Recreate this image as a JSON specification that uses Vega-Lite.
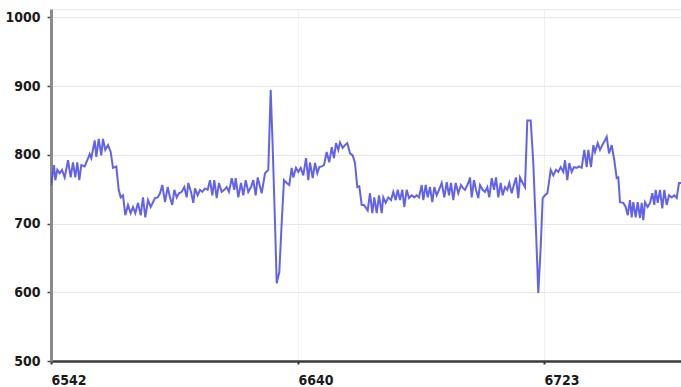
{
  "$schema": "https://vega.github.io/schema/vega-lite/v6.json",
  "width": 630,
  "height": 352,
  "autosize": {"type": "none"},
  "padding": {"left": 51, "top": 9, "right": 0, "bottom": 26},
  "background": "white",
  "config": {
    "view": {"stroke": "#e8e8e8", "strokeWidth": 1},
    "axis": {"labelFont": "DejaVu Sans Condensed, sans-serif", "labelFontSize": 14, "labelFontWeight": "bold", "labelColor": "#1a1a1a", "title": null}
  },
  "data": {
    "values": [
      {"t":0,"v":756},{"t":3,"v":785},{"t":4.3,"v":763},{"t":6.3,"v":778},{"t":8.7,"v":773},{"t":11,"v":778},{"t":13.7,"v":767},{"t":17,"v":792},{"t":19.7,"v":767},{"t":22,"v":789},{"t":24.3,"v":767},{"t":26.3,"v":789},{"t":28.3,"v":763},{"t":30.3,"v":785},{"t":33.7,"v":783},{"t":36.3,"v":792},{"t":38.7,"v":801},{"t":40.3,"v":795},{"t":43.7,"v":821},{"t":45.3,"v":797},{"t":47.7,"v":823},{"t":50.3,"v":799},{"t":52,"v":823},{"t":54.3,"v":807},{"t":57,"v":814},{"t":59.7,"v":804},{"t":62,"v":781},{"t":65.3,"v":783},{"t":67.7,"v":749},{"t":69.7,"v":738},{"t":72,"v":741},{"t":74.3,"v":712},{"t":77,"v":727},{"t":79.7,"v":715},{"t":82,"v":724},{"t":84.3,"v":715},{"t":87,"v":730},{"t":89.7,"v":712},{"t":92,"v":738},{"t":94.3,"v":709},{"t":97,"v":734},{"t":99.7,"v":724},
      {"t":104,"v":737},{"t":106.7,"v":738},{"t":109,"v":744},{"t":111.3,"v":756},{"t":114,"v":731},{"t":116.7,"v":753},{"t":119,"v":738},{"t":121.3,"v":727},{"t":123.3,"v":749},{"t":125.7,"v":738},{"t":128,"v":744},{"t":130.7,"v":746},{"t":133.3,"v":753},{"t":135.7,"v":738},{"t":137.3,"v":759},{"t":140,"v":746},{"t":142.3,"v":730},{"t":144,"v":751},{"t":146.7,"v":741},{"t":149,"v":749},{"t":151.3,"v":746},{"t":154,"v":751},{"t":156.7,"v":749},{"t":159,"v":763},{"t":161.3,"v":741},{"t":163.3,"v":763},{"t":165.7,"v":737},{"t":168,"v":759},{"t":170.7,"v":746},{"t":173.3,"v":749},{"t":175.7,"v":753},{"t":178,"v":746},{"t":180.7,"v":766},{"t":183.3,"v":749},{"t":184.7,"v":766},{"t":187.3,"v":738},{"t":190,"v":759},{"t":192.3,"v":741},{"t":194.7,"v":763},{"t":197.3,"v":746},{"t":200,"v":753},{"t":202.3,"v":763},{"t":204.7,"v":741},{"t":206.7,"v":767},{"t":210.7,"v":744},{"t":214,"v":773},{"t":217.3,"v":778},{"t":219.7,"v":894},
      {"t":221.7,"v":811},{"t":224,"v":701},{"t":225.7,"v":613},{"t":228.3,"v":629},{"t":230.7,"v":701},{"t":233,"v":763},{"t":235.7,"v":759},{"t":238.3,"v":756},{"t":240.7,"v":781},{"t":242.3,"v":767},{"t":245,"v":781},{"t":247.3,"v":775},{"t":249.7,"v":781},{"t":252.3,"v":770},{"t":255,"v":795},{"t":257.3,"v":763},{"t":259,"v":789},{"t":261.7,"v":766},{"t":264,"v":788},{"t":266.3,"v":773},{"t":268.3,"v":782},{"t":270.7,"v":783},{"t":273,"v":785},{"t":275.7,"v":804},{"t":278.3,"v":789},{"t":280.7,"v":811},{"t":283,"v":795},{"t":285,"v":817},{"t":287.3,"v":807},{"t":289,"v":818},{"t":291.7,"v":810},{"t":294,"v":814},{"t":296.3,"v":817},{"t":299,"v":802},{"t":301.7,"v":799},{"t":304,"v":788},{"t":306.3,"v":753},{"t":308.3,"v":754},{"t":310.7,"v":727},{"t":313,"v":727},
      {"t":316.7,"v":719},{"t":319,"v":744},{"t":321.3,"v":715},{"t":323.3,"v":738},{"t":325.7,"v":715},{"t":328,"v":741},{"t":330.7,"v":715},{"t":332.3,"v":738},{"t":334.7,"v":730},{"t":337.3,"v":738},{"t":340,"v":734},{"t":342.3,"v":746},{"t":344.7,"v":734},{"t":346.7,"v":749},{"t":349,"v":734},{"t":351.3,"v":749},{"t":353.3,"v":724},{"t":355.7,"v":749},{"t":358,"v":737},{"t":360.7,"v":741},{"t":363.3,"v":738},{"t":365.7,"v":741},{"t":368,"v":738},{"t":370.7,"v":756},{"t":372.3,"v":734},{"t":374.7,"v":756},{"t":376.7,"v":738},{"t":379,"v":753},{"t":381.3,"v":731},{"t":383.3,"v":753},{"t":385.7,"v":741},{"t":388,"v":749},{"t":390.7,"v":759},{"t":393.3,"v":738},{"t":395.7,"v":760},{"t":398,"v":741},{"t":400,"v":759},{"t":402.3,"v":734},{"t":404.7,"v":759},{"t":407.3,"v":744},{"t":410,"v":756},{"t":412.3,"v":751},{"t":414,"v":749},{"t":417.3,"v":759},
      {"t":419,"v":767},{"t":420.7,"v":738},{"t":423,"v":763},{"t":425,"v":749},{"t":427.3,"v":737},{"t":429,"v":756},{"t":431.7,"v":749},{"t":434,"v":746},{"t":436.3,"v":753},{"t":438.3,"v":738},{"t":440.7,"v":766},{"t":443,"v":749},{"t":445,"v":767},{"t":447.3,"v":738},{"t":449.7,"v":759},{"t":451.7,"v":741},{"t":454,"v":753},{"t":456.3,"v":749},{"t":458.3,"v":759},{"t":460.7,"v":744},{"t":462.3,"v":753},{"t":465,"v":767},{"t":467.3,"v":737},{"t":469,"v":767},{"t":471.7,"v":759},{"t":474,"v":753},{"t":476.3,"v":850},{"t":479.7,"v":850},{"t":482.3,"v":788},{"t":485,"v":690},{"t":487.3,"v":599},{"t":489.7,"v":666},{"t":491.7,"v":737},{"t":494,"v":741},{"t":496.3,"v":744},{"t":498.3,"v":763},{"t":499.7,"v":778},{"t":502.3,"v":770},{"t":505,"v":778},{"t":507.3,"v":775},{"t":509.7,"v":782},{"t":512.3,"v":775},{"t":514,"v":792},{"t":516.3,"v":763},{"t":518.3,"v":788},{"t":520.7,"v":775},{"t":523,"v":782},
      {"t":525.7,"v":781},{"t":528,"v":783},{"t":530.7,"v":781},{"t":533.3,"v":807},{"t":535.7,"v":782},{"t":537.3,"v":807},{"t":540,"v":782},{"t":542.3,"v":814},{"t":544,"v":804},{"t":546.7,"v":817},{"t":549,"v":807},{"t":551.3,"v":814},{"t":554,"v":821},{"t":555.7,"v":826},{"t":558,"v":802},{"t":560.7,"v":814},{"t":563.3,"v":792},{"t":565.7,"v":766},{"t":567.3,"v":767},{"t":569,"v":731},{"t":572.3,"v":730},{"t":574.7,"v":724},{"t":576.7,"v":712},{"t":579,"v":734},{"t":580.7,"v":709},{"t":582.3,"v":731},{"t":584.7,"v":709},{"t":586.7,"v":731},{"t":589,"v":708},{"t":590.7,"v":730},{"t":592.3,"v":705},{"t":594,"v":731},{"t":596.7,"v":724},{"t":599,"v":730},{"t":601.3,"v":744},{"t":603.3,"v":727},{"t":604.7,"v":749},{"t":606.7,"v":730},{"t":609,"v":749},{"t":611.3,"v":722},{"t":613.3,"v":749},{"t":615.7,"v":727},{"t":618,"v":741},{"t":620.7,"v":738},{"t":623.3,"v":741},{"t":625.7,"v":737},{"t":628,"v":759},{"t":630,"v":759}
    ]
  },
  "mark": {"type": "line", "stroke": "#4646ea", "strokeWidth": 2, "opacity": 0.85, "clip": true},
  "encoding": {
    "x": {
      "field": "t", "type": "quantitative",
      "scale": {"domain": [0, 630], "nice": false, "zero": false},
      "axis": {
        "values": [0, 247, 493],
        "labelExpr": "datum.value == 0 ? '6542' : (datum.value < 300 ? '6640' : '6723')",
        "labelAlign": "left", "labelPadding": 9, "tickSize": 3, "tickColor": "#333333", "tickWidth": 2,
        "domainColor": "#3a3a3a", "domainWidth": 2.5,
        "grid": true, "gridColor": "#f0f0f0", "gridWidth": 1
      }
    },
    "y": {
      "field": "v", "type": "quantitative",
      "scale": {"domain": [500, 1012], "nice": false, "zero": false},
      "axis": {
        "values": [500, 600, 700, 800, 900, 1000],
        "format": "d",
        "labelPadding": 7, "tickSize": 4, "tickColor": "#444444", "tickWidth": 1.5,
        "domainColor": "#8a8a8a", "domainWidth": 3,
        "grid": true, "gridColor": "#e6e6e6", "gridWidth": 1.2
      }
    }
  }
}
